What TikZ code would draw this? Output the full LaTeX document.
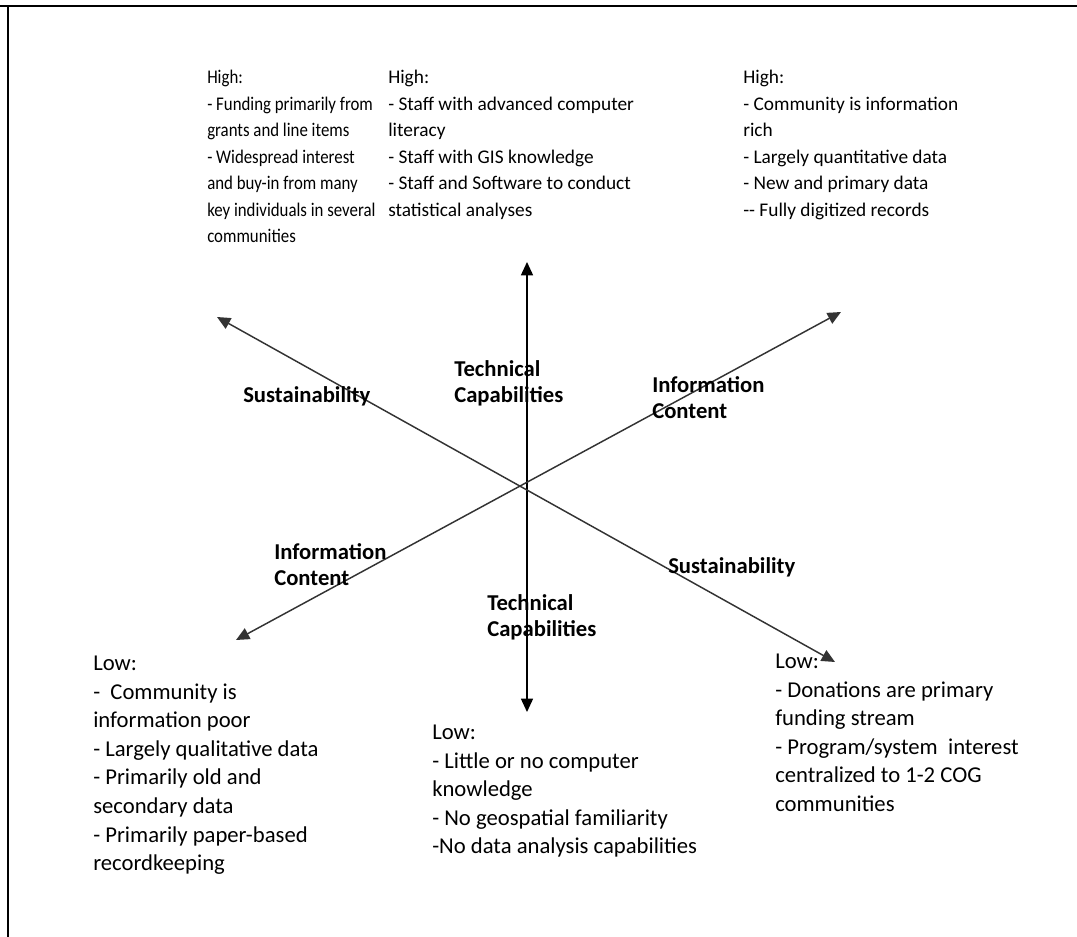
\documentclass[tikz,border=0pt]{standalone}
\usepackage{fontspec}
\setmainfont{Carlito}
\usetikzlibrary{arrows.meta,positioning}

\begin{document}
\begin{tikzpicture}[x=0.75pt,y=-0.75pt,
        axisline/.style={line width=1.1pt, {Triangle[length=10pt,width=9pt]}-{Triangle[length=10pt,width=9pt]}},
        axislabel/.style={font=\fontsize{17}{19.5}\selectfont\bfseries, align=left, inner sep=0pt, anchor=west},
        highbox/.style={font=\fontsize{14.5}{19.9}\selectfont, align=left, inner sep=0pt, anchor=north west},
        lowbox/.style={font=\fontsize{17}{21.4}\selectfont, align=left, inner sep=0pt, anchor=north west}]

            % canvas and frame
            \useasboundingbox (0,0) rectangle (1077,937);
            \draw[line width=1.2pt] (0,6) -- (1077,6);
            \draw[line width=1.2pt] (8,6) -- (8,937);

            % axis end points
            \coordinate (techhigh) at (527,262);
            \coordinate (techlow) at (527,712);
            \coordinate (sushigh) at (217,317);
            \coordinate (suslow) at (835,662);
            \coordinate (infohigh) at (841,312);
            \coordinate (infolow) at (236,640);

            \draw[axisline] (techlow) -- (techhigh);
            \draw[axisline, black!80] (suslow) -- (sushigh);
            \draw[axisline, black!80] (infolow) -- (infohigh);

            % axis labels
            \node[axislabel] (susup) at (243,396) {Sustainability};
            \node[axislabel] (techup) at (454,383) {Technical\\Capabilities};
            \node[axislabel] (infoup) at (652,398) {Information\\Content};
            \node[axislabel] (infodown) at (274,565) {Information\\Content};
            \node[axislabel] (susdown) at (668,567) {Sustainability};
            \node[axislabel] (techdown) at (487,617) {Technical\\Capabilities};

            % high ends
            \node[highbox, font={\fontsize{14.5}{19.9}\selectfont\addfontfeatures{FakeStretch=0.87}}] (sushighbox) at (207,70) {High:\\- Funding primarily from\\grants and line items\\- Widespread interest\\and buy-in from many\\key individuals in several\\communities};
            \node[highbox] (techhighbox) at (388,70) {High:\\- Staff with advanced computer\\literacy\\- Staff with GIS knowledge\\- Staff and Software to conduct\\statistical analyses};
            \node[highbox] (infohighbox) at (743,70) {High:\\- Community is information\\rich\\- Largely quantitative data\\- New and primary data\\-{}- Fully digitized records};

            % low ends
            \node[lowbox] (infolowbox) at (93,656) {Low:\\-~ Community is\\information poor\\- Largely qualitative data\\- Primarily old and\\secondary data\\- Primarily paper-based\\recordkeeping};
            \node[lowbox] (techlowbox) at (432,725) {Low:\\- Little or no computer\\knowledge\\- No geospatial familiarity\\-No data analysis capabilities};
            \node[lowbox] (suslowbox) at (775,654) {Low:\\- Donations are primary\\funding stream\\- Program/system~ interest\\centralized to 1-2 COG\\communities};
        \end{tikzpicture}
\end{document}
